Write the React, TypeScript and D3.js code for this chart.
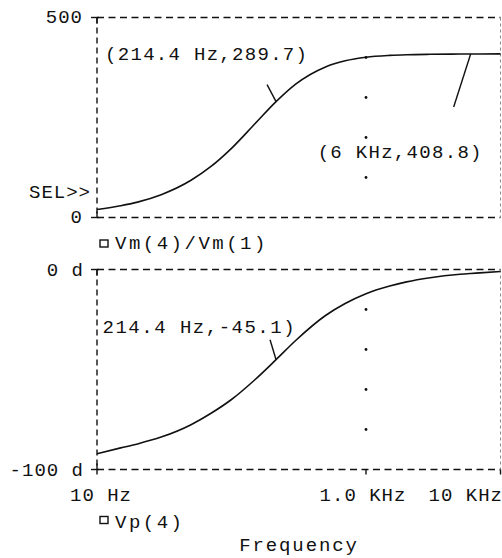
import React from "react";
import * as d3 from "d3";

const freqs = [10, 15, 20, 30, 50, 70, 100, 150, 214.4, 300, 500, 700, 1000, 1500, 2000, 3000, 5000, 6000, 7000, 10000];
const magnitude = [20.0, 29.5, 38.5, 57, 93, 127, 173, 235, 289.7, 333.5, 376.5, 391.7, 400.6, 405.2, 406.9, 408.0, 408.6, 408.8, 408.9, 409.1];
const phase = [-92.1, -89.2, -87.2, -83.8, -77.6, -72.0, -65.0, -55.0, -45.1, -35.5, -23.0, -17.0, -12.1, -8.3, -6.2, -4.1, -2.4, -2.0, -1.7, -1.0];

const xTicks = [10, 1000, 10000];
const xTickLabels = ["10 Hz", "1.0 KHz", "10 KHz"];
const topDomain = [0, 500];
const topTickLabels = ["0", "500"];
const botDomain = [-100, 0];
const botTickLabels = ["-100 d", "0 d"];
const topGrid = [100, 200, 300, 400];
const botGrid = [-80, -60, -40, -20];

const cursors = [
  { panel: "top", f: 214.4, v: 289.7, label: "(214.4 Hz,289.7)" },
  { panel: "top", f: 6000, v: 408.8, label: "(6 KHz,408.8)" },
  { panel: "bot", f: 214.4, v: -45.1, label: "214.4 Hz,-45.1)" },
];

const FONT = "'Liberation Mono', 'DejaVu Sans Mono', monospace";

export default function App() {
  const W = 502, H = 558;
  const x = d3.scaleLog().domain([10, 10000]).range([97, 500.5]);
  const yTop = d3.scaleLinear().domain(topDomain).range([217.5, 17.5]);
  const yBot = d3.scaleLinear().domain(botDomain).range([469.5, 269.5]);

  const magLine = d3.line<number>()
    .x((_, i) => x(freqs[i]))
    .y((d) => yTop(d))
    .curve(d3.curveMonotoneX);
  const phLine = d3.line<number>()
    .x((_, i) => x(freqs[i]))
    .y((d) => yBot(d))
    .curve(d3.curveMonotoneX);

  const x0 = x.range()[0], x1 = x.range()[1];
  const txt = { fontFamily: FONT, fontSize: 19, fill: "#111", letterSpacing: 1 } as any;

  const panel = (y: d3.ScaleLinear<number, number>) => {
    const [b, t] = y.range();
    return (
      <g>
        <line x1={x0} x2={x1} y1={t} y2={t} stroke="#111" strokeWidth={1.4} strokeDasharray="7,4.5" />
        <line x1={x0} x2={x1} y1={b} y2={b} stroke="#111" strokeWidth={1.4} strokeDasharray="7,4.5" />
        <line x1={x0} x2={x0} y1={t} y2={b} stroke="#111" strokeWidth={1.4} strokeDasharray="6,4" />
        <line x1={x1} x2={x1} y1={t} y2={b} stroke="#888" strokeWidth={1} strokeDasharray="3,3" />
        <line x1={x0 - 6} x2={x0 + 2} y1={t} y2={t} stroke="#111" strokeWidth={1.4} />
        <line x1={x0 - 6} x2={x0 + 2} y1={b} y2={b} stroke="#111" strokeWidth={1.4} />
        <line x1={x0} x2={x0} y1={t} y2={t + 6} stroke="#111" strokeWidth={1.4} />
        <line x1={x0} x2={x0} y1={b - 6} y2={b} stroke="#111" strokeWidth={1.4} />
      </g>
    );
  };

  const cursorEls = cursors.map((c, i) => {
    const sc = c.panel === "top" ? yTop : yBot;
    const px = x(c.f), py = sc(c.v);
    let lx2, ly2, tx, ty, ls;
    if (i === 0) { lx2 = px - 9; ly2 = py - 17; tx = px - 171; ty = py - 42; ls = 1.3; }
    else if (i === 1) { lx2 = px - 17; ly2 = py + 53; tx = px - 153; ty = py + 104; ls = 1.3; }
    else { lx2 = px - 6; ly2 = py - 20; tx = px - 173.5; ty = py - 27; ls = 1.5; }
    return (
      <g key={i}>
        <line x1={px} y1={py} x2={lx2} y2={ly2} stroke="#111" strokeWidth={1.4} />
        <text x={tx} y={ty} style={{ ...txt, letterSpacing: ls }}>{c.label}</text>
      </g>
    );
  });

  return (
    <svg width={W} height={H} style={{ position: "absolute", left: 0, top: 0, background: "#fff" }}>
      <rect width={W} height={H} fill="#fff" />
      {panel(yTop)}
      {panel(yBot)}
      {topGrid.map((g) => (
        <circle key={"tg" + g} cx={x(1000)} cy={yTop(g)} r={1.4} fill="#111" />
      ))}
      {botGrid.map((g) => (
        <circle key={"bg" + g} cx={x(1000)} cy={yBot(g)} r={1.4} fill="#111" />
      ))}
      {xTicks.map((t) => (
        <line key={"xt" + t} x1={x(t)} x2={x(t)} y1={yBot.range()[0]} y2={yBot.range()[0] + 5} stroke="#111" strokeWidth={1.4} />
      ))}
      <path d={magLine(magnitude) || ""} fill="none" stroke="#111" strokeWidth={1.6} />
      <path d={phLine(phase) || ""} fill="none" stroke="#111" strokeWidth={1.6} />
      {cursorEls}
      {topDomain.map((v, i) => (
        <text key={"tl" + v} x={83} y={yTop(v) + 5.3} textAnchor="end" style={txt}>{topTickLabels[i]}</text>
      ))}
      <text x={91} y={198.3} textAnchor="end" style={txt}>SEL&gt;&gt;</text>
      {botDomain.map((v, i) => (
        <text key={"bl" + v} x={84} y={yBot(v) + 6} textAnchor="end" style={txt}>{botTickLabels[i]}</text>
      ))}
      {xTicks.map((t, i) => (
        <text key={"xl" + t} x={i === 2 ? x(t) + 2.5 : x(t) + (i === 0 ? 4 : -3)} y={501}
          textAnchor={i === 2 ? "end" : "middle"} style={txt}>{xTickLabels[i]}</text>
      ))}
      <rect x={100} y={240} width={8} height={7} fill="none" stroke="#111" strokeWidth={1.4} />
      <text x={115} y={249.3} style={{ ...txt, letterSpacing: 2.5 }}>Vm(4)/Vm(1)</text>
      <rect x={100} y={516.5} width={8} height={7} fill="none" stroke="#111" strokeWidth={1.4} />
      <text x={115} y={528.3} style={{ ...txt, letterSpacing: 2.5 }}>Vp(4)</text>
      <text x={299} y={551} textAnchor="middle" style={{ ...txt, letterSpacing: 1.9 }}>Frequency</text>
    </svg>
  );
}
